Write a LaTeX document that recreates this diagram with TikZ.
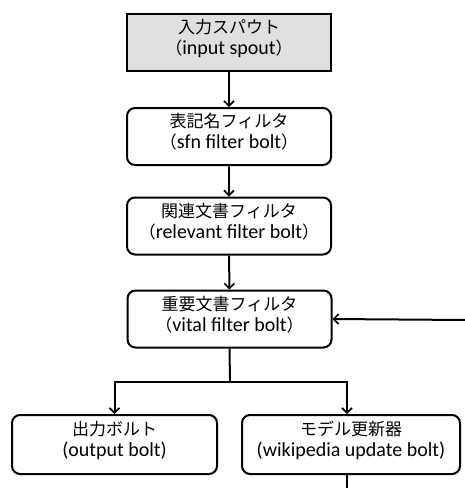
\documentclass[tikz,border=0pt]{standalone}
\usepackage{fontspec}
\setmainfont{Carlito}
\newfontfamily\jp{Noto Sans CJK JP}
\usetikzlibrary{arrows.meta,calc}
\newcommand{\J}[1]{{\jp\fontsize{17}{21}\selectfont #1}}
\tikzset{
  box/.style={draw, line width=2pt, minimum width=204pt, minimum height=57pt, align=center, font=\fontsize{20}{21}\selectfont, inner sep=0pt, text depth=11pt},
  rbox/.style={box, rounded corners=8pt},
  conn/.style={line width=2pt},
  arr/.style={conn, -{Straight Barb[length=5pt,width=10pt,line width=1.6pt]}}
}
\begin{document}
\begin{tikzpicture}[x=1pt,y=-1pt]
\useasboundingbox (0,0) rectangle (464,488);
\node[box, fill=gray!25] (b1) at (229,42) {\J{入力スパウト}\\\J{（}input spout\J{）}};
\node[rbox] (b2) at (229,136.5) {\J{表記名フィルタ}\\\J{（}sfn filter bolt\J{）}};
\node[rbox] (b3) at (229,226) {\J{関連文書フィルタ}\\\J{（}relevant filter bolt\J{）}};
\node[rbox] (b4) at (229.5,319) {\J{重要文書フィルタ}\\\J{（}vital filter bolt\J{）}};
\node[rbox, minimum width=205pt, minimum height=59pt] (b5) at (114.5,444.5) {\J{出力ボルト}\\(output bolt)};
\node[rbox, minimum width=218pt, minimum height=59pt] (b6) at (351,444.5) {\J{モデル更新器}\\(wikipedia update bolt)};
\coordinate (j) at (230,382);
\coordinate (fb) at (466,320);
\coordinate (down) at (347,490);
\draw[arr] (b1) -- (b2);
\draw[arr] (b2) -- (b3);
\draw[arr] (b3) -- (b4);
\draw[conn] (b4.south) -- (j);
\draw[arr] (j) -| (b5.north);
\draw[arr] (j) -| ([xshift=-4pt]b6.north);
\draw[conn] ([xshift=-4pt]b6.south) -- (down);
\draw[arr] (fb) -- (b4.east);
\end{tikzpicture}
\end{document}
